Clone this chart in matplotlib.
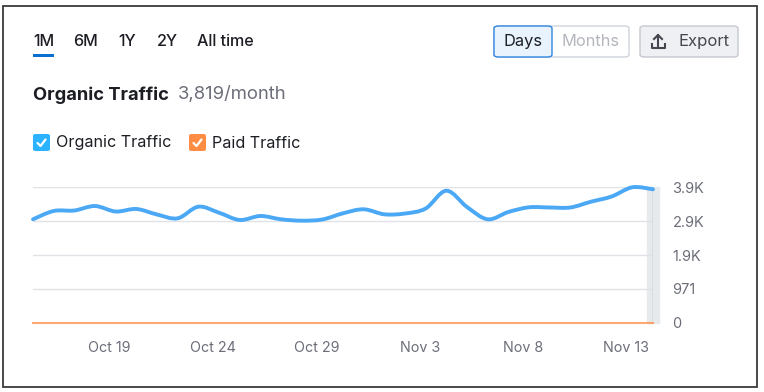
import numpy as np
import pandas as pd
import matplotlib
matplotlib.use("Agg")
import matplotlib.pyplot as plt
import matplotlib.dates as mdates
from matplotlib.path import Path
from matplotlib.patches import PathPatch, FancyBboxPatch, Rectangle

plt.rcParams['font.family'] = ['Inter', 'DejaVu Sans']

# Data
dates = pd.date_range('2024-10-15 07:00', periods=31, freq='D')
organic = [2962, 3199, 3213, 3341, 3184, 3256, 3099, 2990, 3321, 3150,
           2942, 3056, 2962, 2922, 2956, 3133, 3247, 3104, 3127, 3270,
           3778, 3313, 2962, 3170, 3304, 3299, 3299, 3464, 3613, 3876, 3819]
paid = [0] * 31
y_ticks = [0, 971, 1942, 2913, 3884]
y_labels = ['0', '971', '1.9K', '2.9K', '3.9K']
x_tick_dates = ['2024-10-19', '2024-10-24', '2024-10-29', '2024-11-03', '2024-11-08', '2024-11-13']
x_tick_labels = ['Oct 19', 'Oct 24', 'Oct 29', 'Nov 3', 'Nov 8', 'Nov 13']
periods = ['1M', '6M', '1Y', '2Y', 'All time']

W, H = 764, 392
BLUE = '#4aa8f5'
ORANGE = '#ff8c43'
GRID = '#e1e2e7'
GRAY = '#6c6e79'
DARK = '#1c1e24'


def fx(x):
    return x / W


def fy(y):
    return 1 - y / H


fig = plt.figure(figsize=(W / 100, H / 100), dpi=100)
fig.patch.set_facecolor('white')

# outer frame
fig.patches.append(Rectangle((fx(3), fy(387)), fx(754), (387 - 6) / H,
                             transform=fig.transFigure, fill=False,
                             edgecolor='#3a3a3a', lw=1.3))

ax = fig.add_axes([fx(33), fy(323), fx(620), (323 - 187) / H])
xs = mdates.date2num(dates)
ax.set_xlim(xs[0], xs[-1])
ax.set_ylim(0, y_ticks[-1])
for s in ax.spines.values():
    s.set_visible(False)
for t in y_ticks[1:]:
    ax.axhline(t, color=GRID, lw=1, zorder=1)

# hover band on the last day
ax.axvspan(xs[-1] - 0.3, xs[-1] + 0.3, color='#e7eaec', zorder=0, clip_on=False)
ax.axvline(xs[-1], color='#a4a9ae', lw=1, zorder=2)

# paid traffic
ax.plot(xs, paid, color=ORANGE, lw=1.5, alpha=0.75, zorder=3, clip_on=False)

# organic traffic drawn as a smooth bezier curve through the points
ys = np.array(organic, dtype=float)
verts = [(xs[0], ys[0])]
codes = [Path.MOVETO]
n = len(xs)
for i in range(n - 1):
    x0, y0 = (xs[i - 1], ys[i - 1]) if i > 0 else (xs[i], ys[i])
    x1, y1 = xs[i], ys[i]
    x2, y2 = xs[i + 1], ys[i + 1]
    x3, y3 = (xs[i + 2], ys[i + 2]) if i + 2 < n else (x2, y2)
    verts += [(x1 + (x2 - x0) / 6, y1 + (y2 - y0) / 6),
              (x2 - (x3 - x1) / 6, y2 - (y3 - y1) / 6),
              (x2, y2)]
    codes += [Path.CURVE4] * 3
ax.add_patch(PathPatch(Path(verts, codes), fill=False, edgecolor=BLUE,
                       lw=2.8, zorder=4, clip_on=False, capstyle='round',
                       joinstyle='round'))

ax.yaxis.tick_right()
ax.set_yticks(y_ticks)
ax.set_yticklabels(y_labels)
ax.set_xticks(mdates.date2num(pd.to_datetime(x_tick_dates)))
ax.set_xticklabels(x_tick_labels)
ax.tick_params(axis='y', length=0, pad=14, labelsize=10.5, labelcolor=GRAY)
ax.tick_params(axis='x', length=0, pad=13, labelsize=10.3, labelcolor=GRAY)
for lab in ax.get_yticklabels():
    lab.set_horizontalalignment('left')

# period tabs
tab_x = [33, 73, 118, 157, 197]
for lbl, x in zip(periods, tab_x):
    fig.text(fx(x), fy(41), lbl, fontsize=11.6, color=DARK,
             fontweight='medium', va='center', ha='left')
fig.patches.append(Rectangle((fx(33), fy(57)), fx(21), 3 / H,
                             transform=fig.transFigure, color='#0a6fd0', lw=0))

# title
fig.text(fx(33), fy(95), 'Organic Traffic', fontsize=13.2, fontweight='bold',
         color=DARK, va='center', ha='left')
fig.text(fx(178), fy(95), '3,819/month', fontsize=13.3, color=GRAY,
         va='center', ha='left')

# legend checkboxes
for bx, col, lbl in [(33, '#2bb3ff', 'Organic Traffic'), (189, ORANGE, 'Paid Traffic')]:
    fig.patches.append(FancyBboxPatch((fx(bx), fy(151)), fx(17), 17 / H,
                                      boxstyle='round,pad=0,rounding_size=0.004',
                                      transform=fig.transFigure, color=col, lw=0))
    fig.lines.append(plt.Line2D([fx(bx + 4.5), fx(bx + 7.5), fx(bx + 12.5)],
                                [fy(143), fy(146), fy(139.5)],
                                transform=fig.transFigure, color='white', lw=1.6,
                                solid_capstyle='round', solid_joinstyle='round'))
    fig.text(fx(bx + 23), fy(143), lbl, fontsize=11.6, color=DARK,
             va='center', ha='left')

# Days / Months toggle
fig.patches.append(FancyBboxPatch((fx(494), fy(57)), fx(135), 31 / H,
                                  boxstyle='round,pad=0,rounding_size=0.006',
                                  transform=fig.transFigure, facecolor='white',
                                  edgecolor='#cfd3da', lw=1))
fig.patches.append(FancyBboxPatch((fx(494), fy(57)), fx(58), 31 / H,
                                  boxstyle='round,pad=0,rounding_size=0.006',
                                  transform=fig.transFigure, facecolor='#e8f3fe',
                                  edgecolor='#2f86de', lw=1))
fig.text(fx(523), fy(41.5), 'Days', fontsize=11.8, color=DARK, va='center', ha='center')
fig.text(fx(590.5), fy(41.5), 'Months', fontsize=11.8, color='#b3b6bd', va='center', ha='center')

# Export button
fig.patches.append(FancyBboxPatch((fx(640), fy(57)), fx(98), 31 / H,
                                  boxstyle='round,pad=0,rounding_size=0.006',
                                  transform=fig.transFigure, facecolor='#eff0f3',
                                  edgecolor='#c5c8cf', lw=1))
ic = '#44474f'
fig.lines.append(plt.Line2D([fx(658), fx(658)], [fy(47), fy(35)],
                            transform=fig.transFigure, color=ic, lw=1.5))
fig.lines.append(plt.Line2D([fx(654), fx(658), fx(662)], [fy(39), fy(35), fy(39)],
                            transform=fig.transFigure, color=ic, lw=1.5))
fig.lines.append(plt.Line2D([fx(651.5), fx(651.5), fx(664.5), fx(664.5)],
                            [fy(44), fy(48), fy(48), fy(44)],
                            transform=fig.transFigure, color=ic, lw=1.5))
fig.text(fx(678), fy(41.5), 'Export', fontsize=12, color='#44474f', va='center', ha='left')

fig.savefig('out.png', dpi=100)
